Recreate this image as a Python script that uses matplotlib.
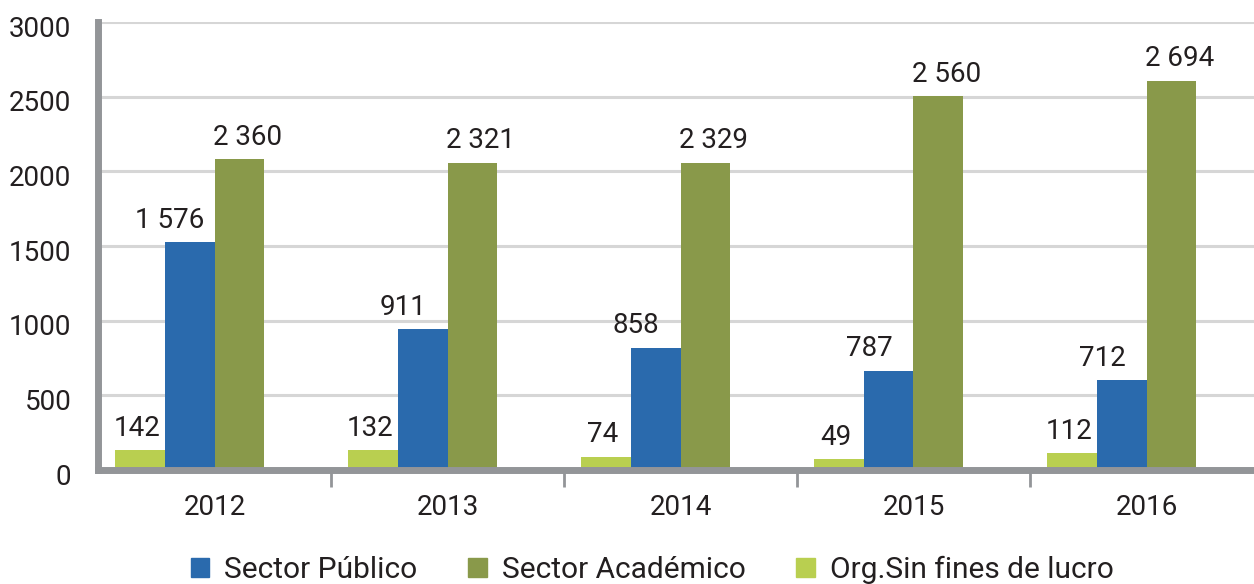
import matplotlib

matplotlib.use("Agg")
import matplotlib.pyplot as plt  # noqa: E402
import numpy as np  # noqa: E402
from matplotlib.patches import Patch  # noqa: E402
from matplotlib.transforms import ScaledTranslation  # noqa: E402

plt.rcParams["font.family"] = ["Roboto", "DejaVu Sans"]

years = ["2012", "2013", "2014", "2015", "2016"]
series = ["Org.Sin fines de lucro", "Sector Público", "Sector Académico"]

# alturas de barra (no coinciden con las etiquetas)
org_alto = [135, 135, 89, 73, 111]
publico_alto = [1525, 942, 820, 665, 600]
academico_alto = [2080, 2058, 2058, 2505, 2607]

# etiquetas impresas sobre cada barra
org_lbl = ["142", "132", "74", "49", "112"]
publico_lbl = ["1 576", "911", "858", "787", "712"]
academico_lbl = ["2 360", "2 321", "2 329", "2 560", "2 694"]

COLORS = ["#b9cf50", "#2a6aad", "#89994a"]
LBL_DX = [-2, -14, 6]  # desplazamiento horizontal de etiquetas (pt)

fig = plt.figure(figsize=(12.54, 5.84), dpi=100)
ax = fig.add_axes([98 / 1254, 1 - 470 / 584, 1165 / 1254, 448 / 584])

x = np.arange(len(years))
w = 0.214
shift = -0.107
alturas = [org_alto, publico_alto, academico_alto]
etiquetas = [org_lbl, publico_lbl, academico_lbl]
for j, (h, lbls) in enumerate(zip(alturas, etiquetas)):
    xs = x + (j - 1) * w + shift
    ax.bar(xs, h, w, color=COLORS[j], zorder=2)
    for xi, hi, t in zip(xs, h, lbls):
        ax.annotate(t, (xi, hi), xytext=(LBL_DX[j], 6), textcoords="offset points",
                    ha="center", va="bottom", fontsize=20, color="#231f20")

ax.set_xlim(-0.5, len(years) - 0.5)
ax.set_ylim(0, 3000)
ax.set_yticks(np.arange(0, 3001, 500))
ax.set_yticklabels([str(v) for v in range(0, 3001, 500)])
ax.set_xticks(x)
ax.set_xticklabels(years)
ax.set_xticks(x[:-1] + 0.5, minor=True)

ax.tick_params(axis="y", length=0, pad=19, labelsize=20, labelcolor="#231f20")
ax.tick_params(axis="x", which="major", length=0, pad=17, labelsize=20, labelcolor="#231f20")
ax.tick_params(axis="x", which="minor", length=12, width=2, color="#939598", direction="out")

for lbl in ax.get_yticklabels():
    lbl.set_transform(lbl.get_transform() + ScaledTranslation(0, -3 / 72, fig.dpi_scale_trans))

ax.grid(axis="y", color="#d6d6d6", lw=2.2, zorder=0)
ax.set_axisbelow(True)
for s in ("top", "right"):
    ax.spines[s].set_visible(False)
ax.spines["left"].set_color("#939598")
ax.spines["left"].set_linewidth(5)
ax.spines["bottom"].set_color("#939598")
ax.spines["bottom"].set_linewidth(5)
ax.spines["bottom"].set_zorder(3)

handles = [Patch(color=COLORS[1]), Patch(color=COLORS[2]), Patch(color=COLORS[0])]
names = [series[1], series[2], series[0]]
fig.legend(handles, names, loc="center left", bbox_to_anchor=(164 / 1254, 14 / 584),
           ncol=3, frameon=False, fontsize=21.5, handlelength=0.62, handleheight=0.62,
           handletextpad=0.5, columnspacing=1.7, labelcolor="#231f20")

fig.savefig("out.png", dpi=100)
plt.close(fig)
